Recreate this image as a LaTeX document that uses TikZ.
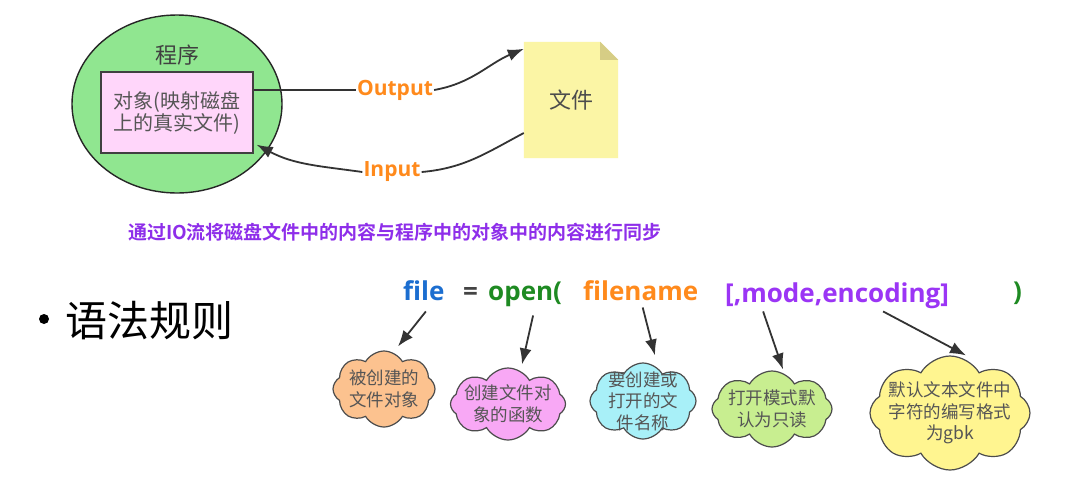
\documentclass[tikz,border=0pt]{standalone}
\usepackage{fontspec}
\setmainfont{Noto Sans CJK SC}
\newfontfamily\cjkbold{Noto Sans CJK SC Bold}
\newfontfamily\codefont{Open Sans}
\usetikzlibrary{shapes.symbols,shapes.geometric,arrows.meta,calc}
\pgfdeclarelayer{bg}
\pgfsetlayers{bg,main}
\definecolor{progGreen}{HTML}{90E690}
\definecolor{objPink}{HTML}{FFD6FA}
\definecolor{fileYellow}{HTML}{FBF5A5}
\definecolor{foldOlive}{HTML}{D6CD85}
\definecolor{lblOrange}{HTML}{FF8A1C}
\definecolor{syncPurple}{HTML}{8E2EEA}
\definecolor{codeBlue}{HTML}{1C6ED0}
\definecolor{codeGreen}{HTML}{1E8A22}
\definecolor{codeOrange}{HTML}{FF8A1C}
\definecolor{codePurple}{HTML}{9B35F5}
\definecolor{eqGray}{HTML}{444444}
\definecolor{txtGray}{HTML}{555555}
\definecolor{cloudA}{HTML}{FCC28F}
\definecolor{cloudB}{HTML}{F8A8F5}
\definecolor{cloudC}{HTML}{A8F0F8}
\definecolor{cloudD}{HTML}{C8EE90}
\definecolor{cloudE}{HTML}{FFF590}
\tikzset{
  conn/.style={draw=black!80, line width=1.8pt},
  arr/.style={draw=black!80, line width=1.8pt, -{Latex[length=16pt,width=12pt]}},
  lbl/.style={font=\codefont\bfseries\fontsize{21}{23}\selectfont, text=lblOrange, inner sep=1pt},
  code/.style={font=\codefont\bfseries\fontsize{26}{30}\selectfont, anchor=base west, inner sep=3pt},
  cloudbox/.style={cloud, cloud puffs=8, cloud puff arc=120, cloud ignores aspect, draw=black!70, line width=1.2pt, inner sep=0pt},
  cloudtxt/.style={align=center, text=txtGray, font=\fontsize{17.5}{21.5}\selectfont},
}
\begin{document}
\begin{tikzpicture}[x=1pt,y=1pt]
\useasboundingbox (0,0) rectangle (1087,-493);
\begin{pgfonlayer}{bg}
\fill[white] (0,0) rectangle (1087,-493);
\end{pgfonlayer}

% program ellipse
\node[ellipse, draw=black!85, fill=progGreen, line width=1.4pt, minimum width=210, minimum height=178] (prog) at (177,-104) {};
\node[font=\fontsize{22}{24}\selectfont, text=black!75] (progtitle) at (177,-55) {程序};
\node[draw=black!75, fill=objPink, line width=1.4pt, minimum width=152, minimum height=81, inner sep=0pt,
      align=center, text=txtGray, font=\fontsize{20}{22}\selectfont] (obj) at (177,-112.5) {对象(映射磁盘\\上的真实文件)};

% file document
\node[minimum width=94, minimum height=116, inner sep=0pt, font=\fontsize{22}{24}\selectfont, text=black!70] (file) at (571,-100) {文件};
\begin{pgfonlayer}{bg}
\fill[fileYellow] (file.north west) -- ($(file.north east)+(-18,0)$) -- ($(file.north east)+(0,-18)$) -- (file.south east) -- (file.south west) -- cycle;
\fill[foldOlive] ($(file.north east)+(-18,0)$) -- ($(file.north east)+(-18,-18)$) -- ($(file.north east)+(0,-18)$) -- cycle;
\end{pgfonlayer}

% labels
\node[lbl] (outlbl) at (395,-90) {Output};
\node[lbl] (inlbl) at (392,-172) {Input};

\coordinate (fileIn) at ($(file.north west)+(0,-7)$);
\coordinate (fileOut) at ($(file.west)+(0,-33)$);
\coordinate (objIn) at ($(obj.south east)+(3,9)$);

\draw[conn] (obj.east |- outlbl.west) -- (outlbl.west);
\draw[arr] (outlbl.east) to[out=10,in=203] (fileIn);
\draw[conn] (fileOut) to[out=208,in=5] (inlbl.east);
\draw[arr] (inlbl.west) to[out=172,in=-28] (objIn);

% sync text
\node[font=\cjkbold\fontsize{19}{21}\selectfont, text=syncPurple] (sync) at (395,-232) {通过IO流将磁盘文件中的内容与程序中的对象中的内容进行同步};

% syntax rule heading
\node[circle, fill=black, inner sep=0pt, minimum size=10] (bullet) at (44,-319) {};
\node[font=\fontsize{42}{46}\selectfont, anchor=west, inner sep=0pt] (rule) at (65,-321) {语法规则};

% code line
\node[code, text=codeBlue] (cfile) at (400,-300) {file};
\node[code, text=eqGray] (ceq) at (460,-300) {=};
\node[code, text=codeGreen] (copen) at (485,-300) {open(};
\node[code, text=codeOrange] (cname) at (580,-300) {filename};
\node[code, text=codePurple] (cmode) at (722,-302) {[,mode,encoding]};
\node[code, text=codeGreen] (cclose) at (1010,-300) {)};

% clouds
\node[cloudbox, fill=cloudA, minimum width=102, minimum height=76,
      label={[cloudtxt]center:被创建的\\文件对象}] (cA) at (384,-389) {};
\node[cloudbox, fill=cloudB, minimum width=115, minimum height=72,
      label={[cloudtxt]center:创建文件对\\象的函数}] (cB) at (508,-404) {};
\node[cloudbox, fill=cloudC, minimum width=106, minimum height=76,
      label={[cloudtxt]center:要创建或\\打开的文\\件名称}] (cC) at (643,-401) {};
\node[cloudbox, fill=cloudD, minimum width=120, minimum height=76,
      label={[cloudtxt]center:打开模式默\\认为只读}] (cD) at (772,-409) {};
\node[cloudbox, fill=cloudE, minimum width=160, minimum height=114,
      label={[cloudtxt]center:默认文本文件中\\字符的编写格式\\为gbk}] (cE) at (950,-413) {};

% arrows from code to clouds
\draw[arr] ($(cfile.south)+(2,-8)$) -- ($(cA.north)+(14,4)$);
\draw[arr] ($(copen.south)+(8,-6)$) -- ($(cB.north)+(14,3)$);
\draw[arr] ($(cname.south)+(2,-4)$) -- ($(cC.north)+(12,7)$);
\draw[arr] ($(cmode.south)+(-74,0)$) -- ($(cD.north)+(11,1)$);
\draw[arr] ($(cmode.south)+(46,0)$) -- ($(cE.north)+(16,0)$);
\end{tikzpicture}
\end{document}
